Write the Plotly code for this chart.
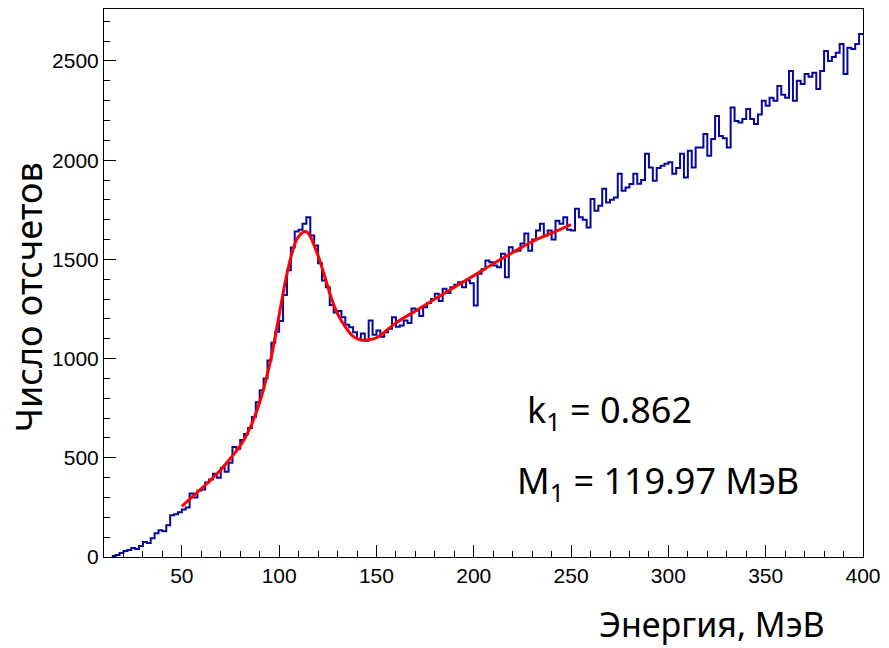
import plotly.graph_objects as go

# Histogram: bin edges every 2 MeV from 14 to 400 (lower edges listed via start/width)
bin_start = 14
bin_width = 2
counts = [
    5, 10, 20, 30, 35, 45, 40, 55,
    75, 70, 95, 120, 135, 130, 160, 210, 215, 225,
    240, 250, 320, 300, 335, 340, 375, 390, 420, 400,
    450, 430, 475, 555, 545, 590, 620, 650, 705, 780,
    840, 900, 990, 1080, 1135, 1190, 1320, 1445, 1560, 1640,
    1650, 1680, 1712, 1620, 1570, 1480, 1393, 1360, 1270, 1232,
    1240, 1209, 1170, 1158, 1133, 1100, 1127, 1090, 1192, 1120,
    1142, 1110, 1133, 1150, 1209, 1160, 1167, 1192, 1180, 1252,
    1242, 1215, 1259, 1280, 1300, 1327, 1290, 1352, 1330, 1360,
    1372, 1385, 1360, 1393, 1380, 1268, 1428, 1450, 1494, 1485,
    1469, 1460, 1529, 1410, 1561, 1540, 1544, 1580, 1630, 1544,
    1600, 1645, 1680, 1620, 1645, 1600, 1695, 1680, 1712, 1650,
    1645, 1755, 1712, 1700, 1661, 1805, 1745, 1770, 1856, 1787,
    1800, 1812, 1932, 1846, 1862, 1880, 1932, 1881, 1900, 2032,
    1963, 1896, 1960, 1972, 1982, 1990, 1932, 1960, 2032, 1913,
    2047, 1963, 2064, 2064, 2132, 2022, 2107, 2223, 2122, 2110,
    2064, 2265, 2198, 2190, 2208, 2258, 2208, 2183, 2230, 2299,
    2274, 2315, 2300, 2374, 2330, 2315, 2450, 2299, 2400, 2384,
    2434, 2420, 2441, 2359, 2450, 2550, 2500, 2520, 2542, 2585,
    2434, 2567, 2560, 2585, 2636,
]

# Fit curve points
fit_x = [50, 55, 60, 65, 70, 75, 80, 85, 90, 95, 97, 100, 103, 106, 109, 112, 114,
         116, 118, 121, 124, 127, 130, 134, 138, 142, 146, 150, 160, 170, 180, 190,
         200, 210, 220, 230, 240, 250]
fit_y = [255, 300, 345, 390, 440, 498, 560, 650, 780, 965, 1060, 1220, 1380, 1510,
         1600, 1635, 1640, 1615, 1570, 1490, 1395, 1300, 1225, 1160, 1112, 1093, 1095,
         1105, 1180, 1240, 1300, 1360, 1418, 1478, 1535, 1590, 1632, 1675]

x_ticks = [50, 100, 150, 200, 250, 300, 350, 400]
y_ticks = [0, 500, 1000, 1500, 2000, 2500]

edges = [bin_start + i * bin_width for i in range(len(counts) + 1)]
hist_y = counts + [counts[-1]]

fig = go.Figure()
fig.add_trace(go.Scatter(x=edges, y=hist_y, mode="lines", line_shape="hv",
                         line=dict(color="#06069c", width=2), hoverinfo="skip"))
fig.add_trace(go.Scatter(x=fit_x, y=fit_y, mode="lines", line_shape="spline",
                         line=dict(color="#ff0000", width=3), hoverinfo="skip"))

axis_common = dict(showline=True, linecolor="black", linewidth=1, mirror=True,
                   ticks="inside", ticklen=12, tickcolor="black", tickwidth=1,
                   showgrid=False, zeroline=False,
                   tickfont=dict(family="Liberation Sans, Arial", size=21, color="black"))

fig.update_xaxes(range=[10, 400], tickvals=x_ticks,
                 minor=dict(ticks="inside", ticklen=6, dtick=10, tick0=0, tickcolor="black"),
                 **axis_common)
fig.update_yaxes(range=[0, 2762], tickvals=y_ticks,
                 minor=dict(ticks="inside", ticklen=6, dtick=100, tick0=0, tickcolor="black"),
                 **axis_common)

txt_font = dict(family="Noto Sans, Open Sans", size=36, color="black")
xt_font = dict(family="Noto Sans, Open Sans", size=34, color="black")
fig.update_layout(
    width=889, height=648,
    margin=dict(l=104, r=23, t=8, b=91),
    paper_bgcolor="white", plot_bgcolor="white",
    showlegend=False,
    annotations=[
        dict(text="Число отсчетов", textangle=-90, xref="paper", yref="paper",
             x=-0.1, y=0.474, xanchor="center", yanchor="middle", showarrow=False,
             font=txt_font),
        dict(text="Энергия, МэВ", xref="paper", yref="paper",
             x=0.953, y=-0.122, xanchor="right", yanchor="middle", showarrow=False,
             font=xt_font),
        dict(text="k<sub>1</sub> = 0.862", xref="x", yref="y",
             x=269.6, y=735, xanchor="center", yanchor="middle", showarrow=False,
             font=txt_font),
        dict(text="M<sub>1</sub> = 119.97 МэВ", xref="x", yref="y",
             x=294.7, y=375, xanchor="center", yanchor="middle", showarrow=False,
             font=txt_font),
    ],
)

fig.write_html("out.html")
